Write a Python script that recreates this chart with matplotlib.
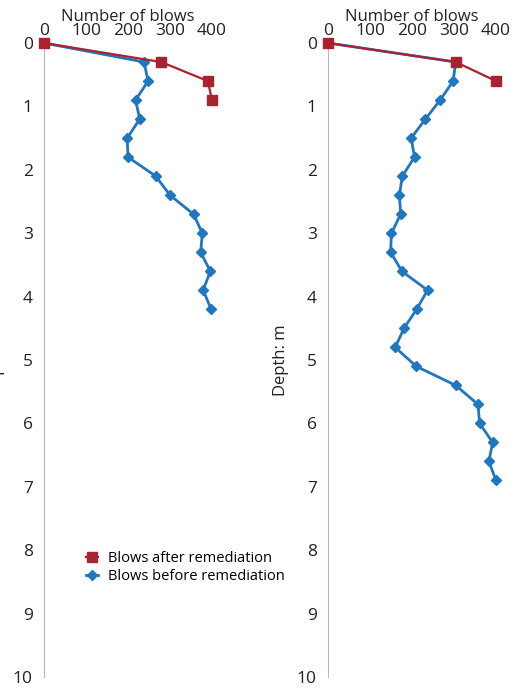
import matplotlib
matplotlib.use("Agg")
import matplotlib.pyplot as plt

depth_l_after = [0, 0.3, 0.6, 0.9]
blows_l_after = [0, 279, 390, 400]
depth_l_before = [0, 0.3, 0.6, 0.9, 1.2, 1.5, 1.8, 2.1, 2.4, 2.7, 3.0, 3.3, 3.6, 3.9, 4.2]
blows_l_before = [0, 238, 248, 218, 228, 198, 200, 266, 300, 356, 377, 373, 396, 379, 398]

depth_r_after = [0, 0.3, 0.6]
blows_r_after = [0, 304, 400]
depth_r_before = [0, 0.3, 0.6, 0.9, 1.2, 1.5, 1.8, 2.1, 2.4, 2.7, 3.0, 3.3, 3.6, 3.9,
                  4.2, 4.5, 4.8, 5.1, 5.4, 5.7, 6.0, 6.3, 6.6, 6.9]
blows_r_before = [0, 304, 298, 267, 232, 198, 206, 177, 170, 173, 151, 149, 176, 237,
                  211, 181, 160, 210, 304, 357, 361, 392, 383, 400]

RED = "#a8232f"
BLUE = "#1f77c0"
plt.rcParams['font.family'] = ['Open Sans', 'DejaVu Sans']

fig = plt.figure(figsize=(5.2, 6.88), dpi=100)
W, H = 520, 688
axes = []
for x0 in (44, 328):
    ax = fig.add_axes([x0 / W, 1 - 677 / H, 168 / W, (677 - 43) / H])
    axes.append(ax)

data = [(blows_l_before, depth_l_before, blows_l_after, depth_l_after),
        (blows_r_before, depth_r_before, blows_r_after, depth_r_after)]
for ax, (bb, db, ba, da) in zip(axes, data):
    lb, = ax.plot(bb, db, color=BLUE, lw=2, marker='D', ms=5.5, zorder=2,
                  label='Blows before remediation')
    la, = ax.plot(ba, da, color=RED, lw=1.6, marker='s', ms=6.5, zorder=3,
                  label='Blows after remediation')
    ax.set_xlim(0, 400)
    ax.set_ylim(10, 0)
    ax.xaxis.tick_top()
    ax.xaxis.set_label_position('top')
    ax.set_xticks([0, 100, 200, 300, 400])
    ax.set_yticks(range(0, 11))
    ax.set_xlabel('Number of blows', fontsize=12, labelpad=1, color='#222222')
    ax.set_ylabel('Depth: m', fontsize=12, color='#222222', labelpad=6)
    for s in ('right', 'bottom', 'top'):
        ax.spines[s].set_visible(False)
    ax.spines['left'].set_color('#b0b8c8')
    ax.tick_params(axis='both', length=0, labelsize=12.5, colors='#222222', pad=3)
    ax.tick_params(axis='y', pad=8)
    ax.patch.set_alpha(0)
    for l in ax.lines:
        l.set_clip_on(False)

axes[0].legend(handles=[la, lb], loc='upper left', bbox_to_anchor=(36 / 168, 1 - (545 - 43) / 634),
               frameon=False, fontsize=10.5, handlelength=0.8, handletextpad=0.7,
               borderaxespad=0, labelspacing=0.25)
fig.savefig('out.png', dpi=100)
